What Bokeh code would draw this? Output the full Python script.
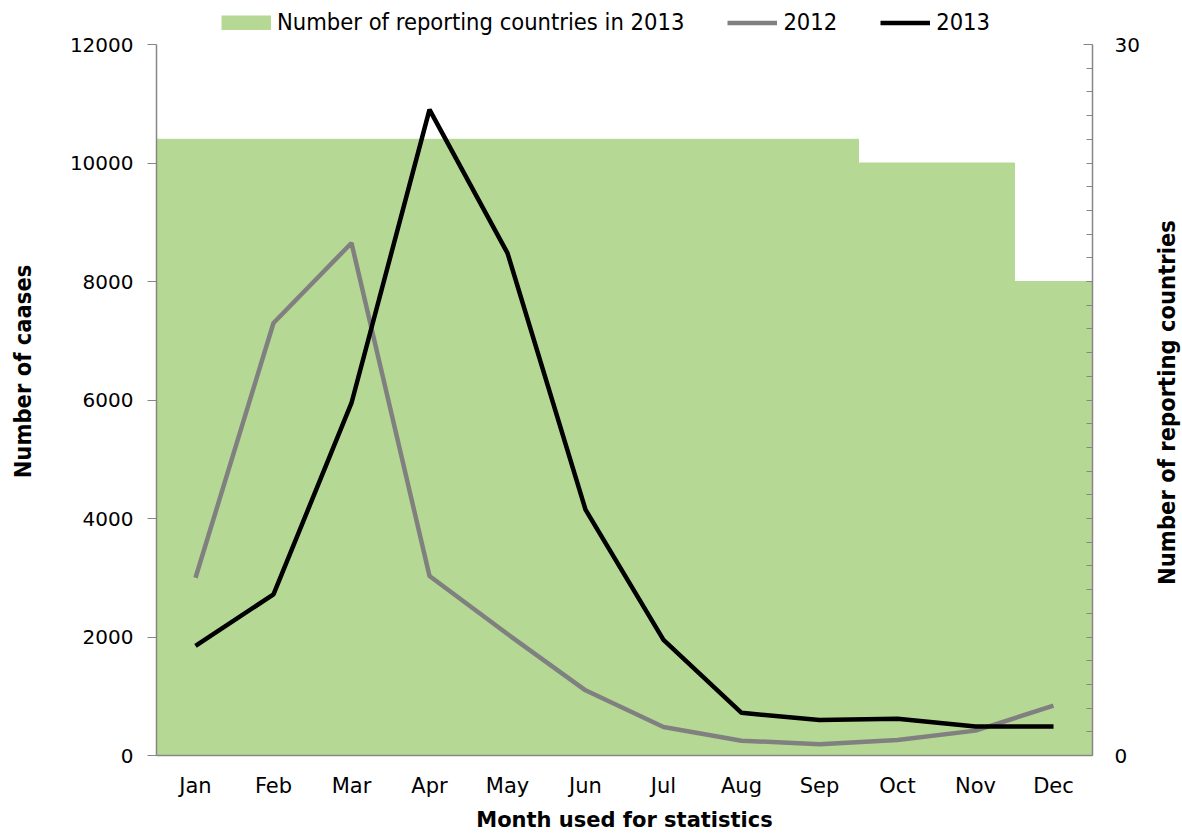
import math
from bokeh.plotting import figure
from bokeh.layouts import column, row
from bokeh.models import (Range1d, LinearAxis, FixedTicker, Legend, LegendItem,
                          FactorRange, ColumnDataSource, Label)
from bokeh.embed import file_html
from bokeh.resources import INLINE

months = ["Jan", "Feb", "Mar", "Apr", "May", "Jun", "Jul", "Aug", "Sep", "Oct", "Nov", "Dec"]
cases_2012 = [3000, 7300, 8650, 3030, 2050, 1100, 480, 250, 190, 260, 420, 840]
cases_2013 = [1850, 2720, 5950, 10900, 8480, 4150, 1950, 720, 600, 620, 490, 490]
countries_2013 = [26, 26, 26, 26, 26, 26, 26, 26, 26, 25, 25, 20]

legend_labels = ["Number of reporting countries in 2013", "2012", "2013"]
left_title_text = "Number of caases"
right_title_text = "Number of reporting countries"
x_title_text = "Month used for statistics"

src = ColumnDataSource(dict(month=months, c2012=cases_2012, c2013=cases_2013,
                            countries=countries_2013))

TICK_FONT = "DejaVu Sans"
COND = "DejaVu Sans Condensed"
AXIS_COLOR = "#868686"
GREEN = "#B5D894"
GRAY = "#808080"
LW = 4.5

W, H = 1182, 834
TOP_H = 35
SIDE_W = 40
FRAME_L, FRAME_R, FRAME_T, FRAME_B = 156, 1093, 44, 755


def blank(width, height):
    f = figure(width=width, height=height, x_range=Range1d(0, 1), y_range=Range1d(0, 1),
               output_backend="svg", toolbar_location=None,
               x_axis_location=None, y_axis_location=None,
               min_border=0, min_border_left=0, min_border_right=0,
               min_border_top=0, min_border_bottom=0)
    f.grid.visible = False
    f.outline_line_color = None
    f.background_fill_color = "white"
    f.border_fill_color = "white"
    return f


# ---------------- main chart ----------------
p = figure(x_range=FactorRange(*months, range_padding=0), y_range=Range1d(0, 12000),
           width=W - 2 * SIDE_W, height=H - TOP_H, output_backend="svg", toolbar_location=None,
           min_border_left=FRAME_L - SIDE_W, min_border_right=(W - SIDE_W) - FRAME_R,
           min_border_top=FRAME_T - TOP_H, min_border_bottom=H - FRAME_B)
p.extra_y_ranges = {"right": Range1d(0, 30)}

p.vbar(x="month", top="countries", width=1.0, source=src, y_range_name="right",
       fill_color=GREEN, line_color=GREEN, line_width=1)
p.line(x="month", y="c2012", source=src, line_color=GRAY, line_width=LW)
p.line(x="month", y="c2013", source=src, line_color="#000000", line_width=LW)

p.grid.visible = False
p.outline_line_color = None
p.background_fill_color = "white"
p.border_fill_color = "white"

ya = p.yaxis[0]
ya.ticker = FixedTicker(ticks=[0, 2000, 4000, 6000, 8000, 10000, 12000])
ya.major_label_text_font = TICK_FONT
ya.major_label_text_font_size = "20px"
ya.major_label_text_color = "black"
ya.major_label_standoff = 14
ya.major_tick_out = 9
ya.major_tick_in = 0
ya.minor_tick_line_color = None
ya.axis_line_color = AXIS_COLOR
ya.major_tick_line_color = AXIS_COLOR
ya.axis_line_width = 1.5

ra = LinearAxis(y_range_name="right",
                ticker=FixedTicker(ticks=[0, 30], minor_ticks=list(range(31))))
ra.major_label_text_font = TICK_FONT
ra.major_label_text_font_size = "20px"
ra.major_label_text_color = "black"
ra.major_label_standoff = 22
ra.major_tick_in = 9
ra.major_tick_out = 0
ra.minor_tick_in = 6
ra.minor_tick_out = 0
ra.axis_line_color = AXIS_COLOR
ra.major_tick_line_color = AXIS_COLOR
ra.minor_tick_line_color = AXIS_COLOR
ra.axis_line_width = 1.5
p.add_layout(ra, "right")

xa = p.xaxis[0]
xa.axis_label = x_title_text
xa.axis_label_text_font = TICK_FONT
xa.axis_label_text_font_style = "bold"
xa.axis_label_text_font_size = "21px"
xa.axis_label_text_color = "black"
xa.axis_label_standoff = 7
xa.major_label_text_font = TICK_FONT
xa.major_label_text_font_size = "21px"
xa.major_label_text_color = "black"
xa.major_label_standoff = 18
xa.major_tick_out = 0
xa.major_tick_in = 0
xa.major_tick_line_color = None
xa.minor_tick_line_color = None
xa.axis_line_color = AXIS_COLOR
xa.axis_line_width = 1.5

# ---------------- legend strip ----------------
top = blank(W, TOP_H)
proxy = ColumnDataSource(dict(x=[0.5], y=[float("nan")]))
lg_bar = top.line(x="x", y="y", source=proxy, line_color=GREEN, line_width=15, line_cap="butt")
lg_12 = top.line(x="x", y="y", source=proxy, line_color=GRAY, line_width=LW)
lg_13 = top.line(x="x", y="y", source=proxy, line_color="#000000", line_width=LW)
legend = Legend(items=[LegendItem(label=legend_labels[0], renderers=[lg_bar]),
                       LegendItem(label=legend_labels[1], renderers=[lg_12]),
                       LegendItem(label=legend_labels[2], renderers=[lg_13])],
                orientation="horizontal", location=(221, -1),
                glyph_width=50, glyph_height=15, label_standoff=6, spacing=43,
                padding=0, margin=0, border_line_color=None, background_fill_alpha=0,
                label_text_font=COND, label_text_font_size="23.5px", label_height=24,
                label_text_color="black")
top.add_layout(legend, "center")

# ---------------- vertical titles ----------------
left = blank(SIDE_W, H - TOP_H)
left.add_layout(Label(x=22, y=FRAME_B - 371, x_units="screen", y_units="screen",
                      text=left_title_text, angle=math.pi / 2,
                      text_align="center", text_baseline="middle",
                      text_font=COND, text_font_style="bold", text_font_size="23.5px",
                      text_color="black"))

right = blank(SIDE_W, H - TOP_H)
right.add_layout(Label(x=1166 - (W - SIDE_W), y=FRAME_B - 402, x_units="screen", y_units="screen",
                       text=right_title_text, angle=math.pi / 2,
                       text_align="center", text_baseline="middle",
                       text_font=COND, text_font_style="bold", text_font_size="23.5px",
                       text_color="black"))

layout = column(top, row(left, p, right, spacing=0), spacing=0)

open("out.html", "w").write(file_html(layout, INLINE))
